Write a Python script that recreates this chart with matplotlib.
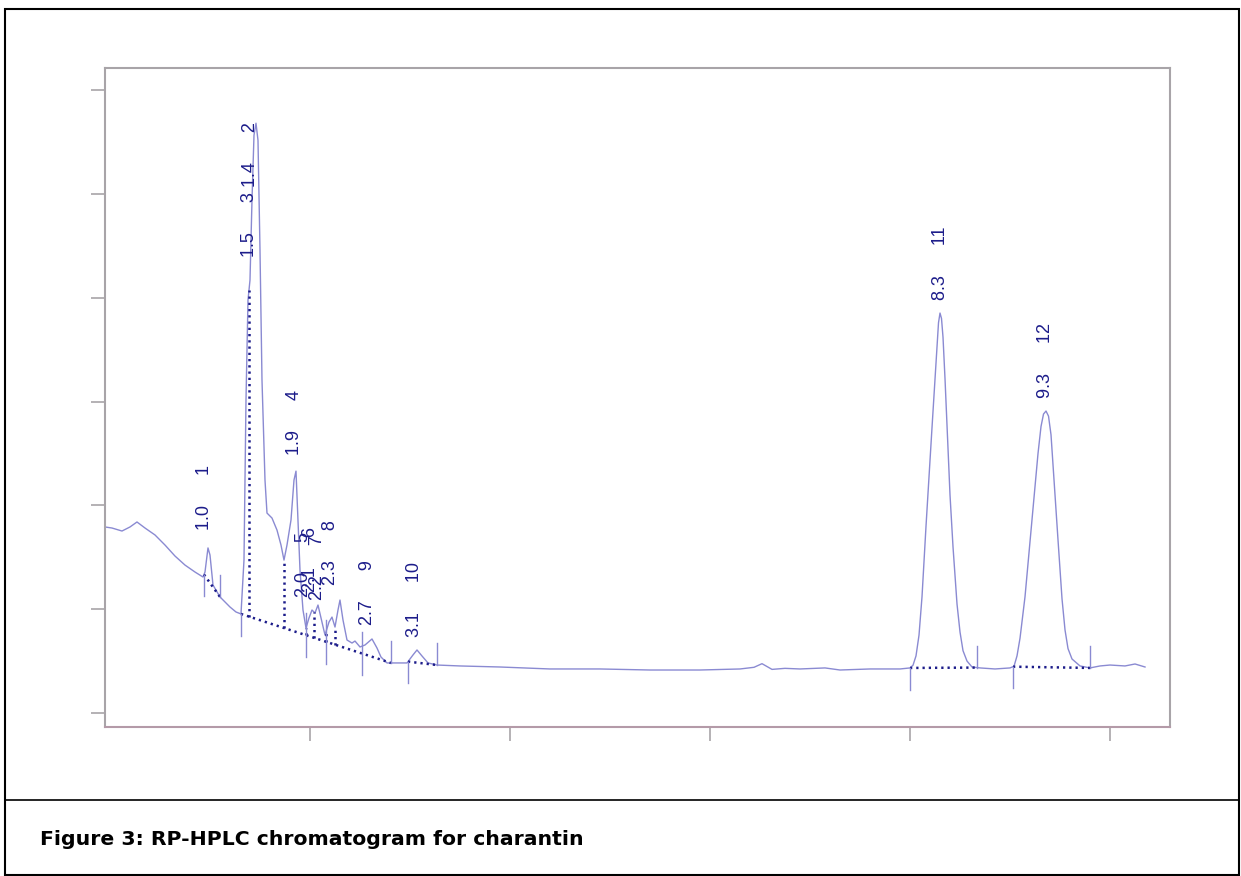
import numpy as np
import matplotlib.pyplot as plt
from matplotlib.patches import Rectangle
from matplotlib.lines import Line2D

# Detector trace (time in min, signal in mAU)
time = [-0.05, 0.02, 0.12, 0.20, 0.27, 0.35, 0.45, 0.55, 0.65, 0.75, 0.85, 0.93,
        0.95, 0.98, 1.00, 1.03, 1.06, 1.10, 1.15, 1.20, 1.26, 1.31, 1.34, 1.36,
        1.38, 1.40, 1.42, 1.44, 1.46, 1.48, 1.50, 1.52, 1.55, 1.57, 1.62, 1.67,
        1.71, 1.74, 1.77, 1.81, 1.84, 1.86, 1.88, 1.90, 1.93, 1.96, 1.99, 2.02,
        2.05, 2.08, 2.12, 2.15, 2.19, 2.22, 2.25, 2.28, 2.30, 2.33, 2.37, 2.42,
        2.45, 2.50, 2.55, 2.62, 2.67, 2.71, 2.77, 2.85, 2.97, 3.03, 3.07, 3.12,
        3.18, 3.27, 3.50, 3.90, 4.40, 4.90, 5.40, 5.90, 6.30, 6.44, 6.52, 6.62,
        6.75, 6.90, 7.15, 7.30, 7.60, 7.90, 8.00, 8.03, 8.06, 8.09, 8.12, 8.16,
        8.19, 8.22, 8.25, 8.27, 8.285, 8.30, 8.315, 8.33, 8.35, 8.38, 8.40, 8.43,
        8.47, 8.50, 8.53, 8.57, 8.62, 8.70, 8.85, 9.00, 9.04, 9.07, 9.10, 9.15,
        9.20, 9.25, 9.28, 9.31, 9.335, 9.36, 9.385, 9.41, 9.44, 9.48, 9.52, 9.55,
        9.58, 9.62, 9.70, 9.80, 9.90, 10.00, 10.15, 10.25, 10.35]
signal = [179.2, 178.2, 175.3, 179.2, 184.0, 178.2, 171.5, 161.8, 151.2, 142.5, 135.8, 131.0,
          135.8, 159.0, 152.2, 123.3, 118.4, 111.8, 106.9, 102.1, 97.3, 95.4, 147.4, 301.4,
          397.7, 417.0, 494.0, 556.6, 568.2, 551.8, 445.9, 320.7, 224.4, 192.6, 187.8, 176.2,
          161.8, 147.3, 161.8, 185.9, 224.4, 233.0, 185.9, 137.7, 99.2, 81.9, 91.5, 99.2,
          96.3, 104.0, 87.6, 75.1, 87.6, 92.4, 82.8, 99.2, 108.8, 89.6, 70.3, 67.4,
          69.3, 63.6, 65.5, 71.3, 62.6, 53.9, 48.2, 48.2, 48.2, 55.9, 60.7, 54.9,
          48.2, 46.2, 45.3, 44.3, 42.4, 42.4, 41.4, 41.4, 42.4, 44.0, 47.5, 42.0,
          43.0, 42.4, 43.4, 41.4, 42.4, 42.4, 43.4, 46.0, 55.0, 75.0, 112.0, 180.0,
          228.0, 275.0, 322.0, 355.0, 376.0, 385.3, 380.0, 362.0, 322.0, 253.4, 210.0, 160.0,
          105.0, 78.0, 60.0, 50.0, 44.3, 43.4, 42.4, 43.4, 45.0, 55.0, 72.0, 112.0,
          165.0, 218.0, 250.0, 276.0, 288.0, 290.9, 286.0, 268.0, 224.4, 166.7, 110.0, 80.0,
          62.0, 52.0, 45.3, 43.4, 45.3, 46.2, 45.3, 47.2, 44.3]

# Integration: baseline segments (start, end) and drop lines inside them
seg_start = [0.94, 1.31, 2.98, 8.00, 9.03]
seg_end = [1.10, 2.81, 3.27, 8.67, 9.80]
drop_times = [1.39, 1.74, 1.96, 2.04, 2.16, 2.25]
split_ticks = [1.96, 2.16, 2.52]

# Peak labels: peak number, retention time, label position
peak_num = [1, 2, 3, 4, 5, 6, 7, 8, 9, 10, 11, 12]
peak_rt = ["1.0", "1.4", "1.5", "1.9", "2.0", "2.1", "2.2", "2.3", "2.7", "3.1", "8.3", "9.3"]
label_x = [0.95, 1.41, 1.40, 1.85, 1.94, 2.01, 2.08, 2.21, 2.58, 3.05, 8.30, 9.35]
label_y = [176.3, 506.7, 439.3, 248.6, 111.8, 116.6, 108.9, 123.3, 84.8, 73.2, 397.9, 303.5]

trace_col = "#8a8ad2"
mark_col = "#1c1c8a"
axis_col = "#a8a4a8"

fig = plt.figure(figsize=(12.41, 8.76), dpi=100)
ax = fig.add_axes([0.0846, 0.1701, 0.8582, 0.7523])

ax.plot(time, signal, color=trace_col, lw=1.0)

dotted = dict(color=mark_col, lw=1.8, linestyle=(0, (0.9, 1.6)))
tick_len = 21
for t0, t1 in zip(seg_start, seg_end):
    y0, y1 = np.interp([t0, t1], time, signal)
    ax.plot([t0, t1], [y0, y1], **dotted)
    ax.plot([t0, t0], [y0, y0 - tick_len], color=trace_col, lw=1.0)
    ax.plot([t1, t1], [y1, y1 + tick_len], color=trace_col, lw=1.0)

    for td in drop_times:
        if t0 < td < t1:
            yb = np.interp(td, [t0, t1], [y0, y1])
            ax.plot([td, td], [yb, np.interp(td, time, signal)], **dotted)
    for ts in split_ticks:
        if t0 < ts < t1:
            yb = np.interp(ts, [t0, t1], [y0, y1])
            ax.plot([ts, ts], [yb - tick_len, yb + tick_len], color=trace_col, lw=1.0)

for n, rt, lx, ly in zip(peak_num, peak_rt, label_x, label_y):
    ax.text(lx, ly, f"{rt}      {n}", rotation=90, ha="center", va="bottom",
            color=mark_col, fontsize=13, family="Liberation Sans")

ax.set_xlim(-0.05, 10.6)
ax.set_ylim(-13.5, 621.4)
ax.set_xticks([2, 4, 6, 8, 10])
ax.set_yticks([0, 100, 200, 300, 400, 500, 600])
ax.tick_params(labelleft=False, labelbottom=False, direction="out",
               length=10, width=1.2, color=axis_col)
for side in ["left", "top", "right"]:
    ax.spines[side].set_color(axis_col)
    ax.spines[side].set_linewidth(1.5)
ax.spines["bottom"].set_color("#b49aa8")
ax.spines["bottom"].set_linewidth(1.5)

# page frame and caption
fig.patches.append(Rectangle((0.004, 0.001), 0.9945, 0.9887, transform=fig.transFigure,
                             fill=False, edgecolor="black", lw=1.5))
fig.lines.append(Line2D([0.004, 0.9985], [0.0868, 0.0868], transform=fig.transFigure,
                        color="black", lw=1.2))
fig.text(0.0322, 0.0354, "Figure 3: RP-HPLC chromatogram for charantin",
         fontsize=14.7, fontweight="bold", family=["Liberation Sans Narrow", "DejaVu Sans"],
         va="baseline", color="black")

fig.savefig("out.png", dpi=100)
